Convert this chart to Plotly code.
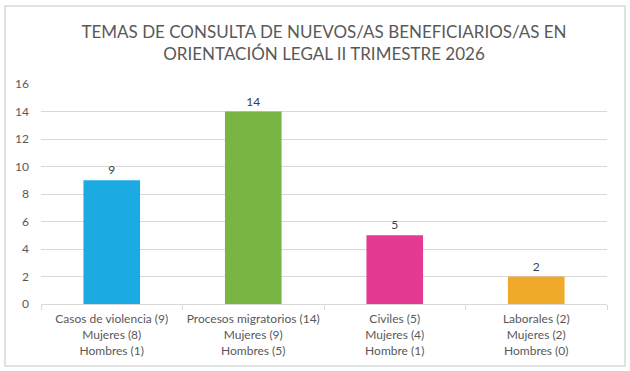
import plotly.graph_objects as go

categories = ["Casos de violencia (9)<br>Mujeres (8)<br>Hombres (1)",
              "Procesos migratorios (14)<br>Mujeres (9)<br>Hombres (5)",
              "Civiles (5)<br>Mujeres (4)<br>Hombre (1)",
              "Laborales (2)<br>Mujeres (2)<br>Hombres (0)"]
values = [9, 14, 5, 2]
colors = ["#1BABE2", "#79B543", "#E43A92", "#EFAA2C"]

font = "Lato, Open Sans, sans-serif"

fig = go.Figure(go.Bar(
    x=categories, y=values, marker_color=colors, marker_line_width=0,
    width=0.4, text=values, textposition="outside",
    textfont=dict(size=12, color="#404040", family=font), cliponaxis=False,
))

fig.update_layout(
    width=630, height=371,
    margin=dict(l=41, r=23, t=84, b=67, autoexpand=False),
    paper_bgcolor="white", plot_bgcolor="white",
    title=dict(text="TEMAS DE CONSULTA DE NUEVOS/AS BENEFICIARIOS/AS EN<br>ORIENTACIÓN LEGAL II TRIMESTRE 2026",
               x=0.5, xanchor="center", xref="paper", y=0.898, yanchor="middle",
               font=dict(size=17, color="#595959", family=font)),
    font=dict(family=font, color="#595959", size=12),
    showlegend=False,
    shapes=[dict(type="rect", xref="paper", yref="paper",
                 x0=-36/566, x1=1 + 18/566, y0=-62/220, y1=1 + 78/220,
                 line=dict(color="#D9D9D9", width=1.5))],
)
fig.update_yaxes(range=[0, 16], dtick=2, showgrid=True, gridcolor="#D9D9D9",
                 zeroline=False, showline=False, ticks="", ticklabelstandoff=11,
                 automargin=False, tickfont=dict(size=12, color="#595959"))
fig.update_xaxes(showline=True, linecolor="#D9D9D9", linewidth=1, ticks="outside",
                 tickson="boundaries", ticklen=5, tickcolor="#D9D9D9", tickangle=0,
                 ticklabelstandoff=4,
                 automargin=False, tickfont=dict(size=12, color="#595959"))

fig.write_html("out.html")
